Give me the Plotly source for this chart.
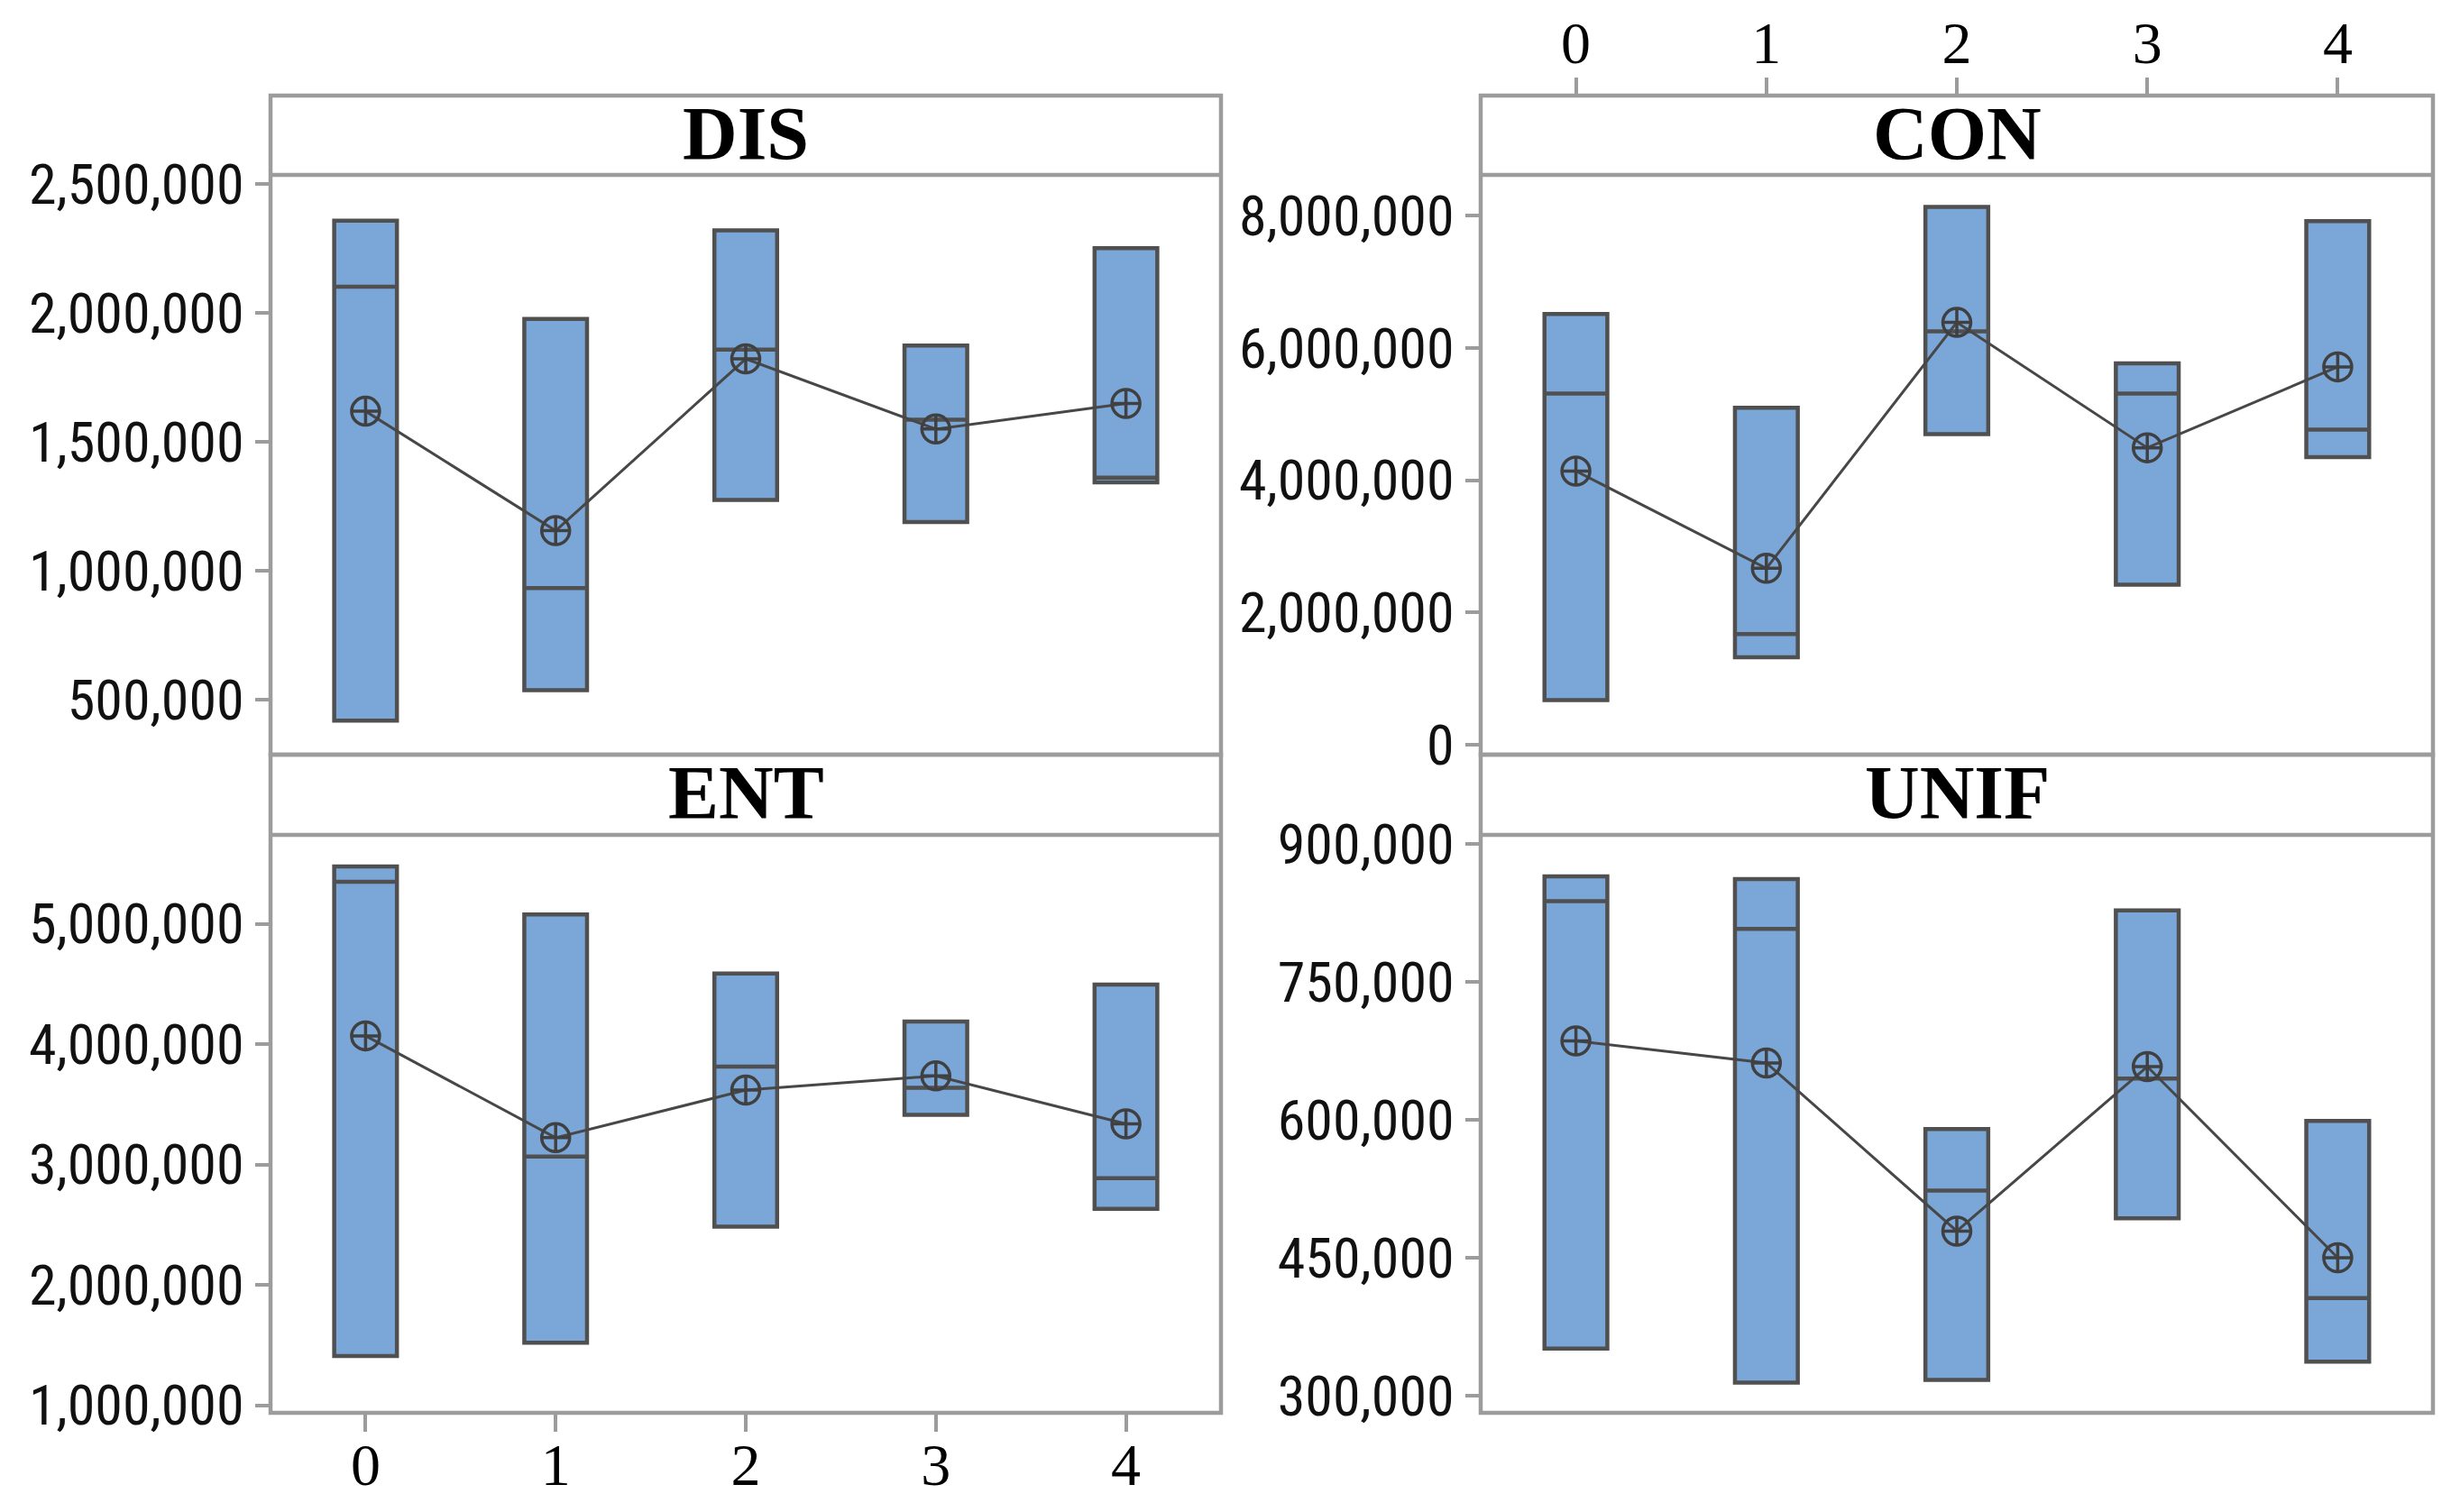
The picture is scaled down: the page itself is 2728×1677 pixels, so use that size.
import plotly.graph_objects as go

# ---------------- data ----------------
groups = [0, 1, 2, 3, 4]
panels = ["DIS", "CON", "ENT", "UNIF"]

dis_q3 = [2358000, 1977000, 2320000, 1874000, 2251000]
dis_med = [2102000, 934000, 1858000, 1586000, 1362000]
dis_q1 = [420000, 538000, 1275000, 1190000, 1343000]
dis_mean = [1619000, 1156000, 1822000, 1550000, 1649000]

con_q3 = [6514000, 5096000, 8135000, 5768000, 7919000]
con_med = [5313000, 1676000, 6254000, 5313000, 4768000]
con_q1 = [676000, 1325000, 4700000, 2423000, 4350000]
con_mean = [4140000, 2669000, 6388000, 4492000, 5716000]

ent_q3 = [5476000, 5078000, 4586000, 4187000, 4495000]
ent_med = [5349000, 3067000, 3814000, 3638000, 2887000]
ent_q1 = [1410000, 1521000, 2485000, 3412000, 2633000]
ent_mean = [4069000, 3223000, 3618000, 3736000, 3338000]

unif_q3 = [865000, 862000, 590000, 828000, 599000]
unif_med = [838000, 808000, 523000, 645000, 406000]
unif_q1 = [351000, 314000, 317000, 493000, 337000]
unif_mean = [686000, 662000, 479000, 658000, 450000]

dis_ticks = [500000, 1000000, 1500000, 2000000, 2500000]
con_ticks = [0, 2000000, 4000000, 6000000, 8000000]
ent_ticks = [1000000, 2000000, 3000000, 4000000, 5000000]
unif_ticks = [300000, 450000, 600000, 750000, 900000]

dis_range = [288000, 2535000]
con_range = [-149000, 8619000]
ent_range = [938000, 5738000]
unif_range = [281200, 910200]

# ---------------- layout geometry (pixels) ----------------
W, H = 2728, 1677
OFF = 8  # page body margin
def fx(px):
    return (px - OFF) / W
def fy(py):
    return 1 - (py - OFF) / H

L = (300, 1354)
R = (1642, 2698)
TOP = (106, 194, 837)      # panel top, strip bottom, plot bottom
BOT = (837, 926, 1567)

BOX_FILL = "#7BA6D8"
BOX_LINE = "#505050"
FRAME = "#9C9C9C"

fig = go.Figure()

series = [
    (dis_q1, dis_med, dis_q3, dis_mean, "x", "y"),
    (con_q1, con_med, con_q3, con_mean, "x2", "y2"),
    (ent_q1, ent_med, ent_q3, ent_mean, "x3", "y3"),
    (unif_q1, unif_med, unif_q3, unif_mean, "x4", "y4"),
]
for q1, med, q3, mean, xa, ya in series:
    fig.add_trace(go.Box(
        x=groups, q1=q1, median=med, q3=q3, lowerfence=q1, upperfence=q3,
        width=0.33, fillcolor=BOX_FILL, line=dict(color=BOX_LINE, width=4.5),
        whiskerwidth=0, boxpoints=False, showlegend=False,
        xaxis=xa, yaxis=ya, hoverinfo="skip",
    ))
    fig.add_trace(go.Scatter(
        x=groups, y=mean, mode="lines+markers",
        line=dict(color="#474747", width=3),
        marker=dict(symbol="circle-cross-open", size=31, color="#404040",
                    line=dict(width=3.5)),
        showlegend=False, xaxis=xa, yaxis=ya, hoverinfo="skip",
    ))

ytick_font = dict(family="Roboto Condensed, Liberation Sans Narrow, Arial Narrow",
                  size=62, color="#111111")
xtick_font = dict(family="Liberation Serif, Times New Roman, serif", size=66, color="black")

def yaxis(domain, rng, ticks, anchor):
    return dict(domain=domain, range=rng, tickvals=ticks, tickformat=",",
                ticks="outside", ticklen=16, tickwidth=4, tickcolor=FRAME,
                showgrid=False, zeroline=False, showline=False,
                tickfont=ytick_font, anchor=anchor, automargin=False, fixedrange=True)

def xaxis(domain, anchor, show, side="bottom", position=None, standoff=0):
    d = dict(domain=domain, range=[-0.5, 4.5], tickvals=groups,
             showgrid=False, zeroline=False, showline=False,
             tickfont=xtick_font, automargin=False, fixedrange=True, side=side)
    if show:
        d.update(ticks="outside", ticklen=20, tickwidth=4, tickcolor=FRAME,
                 showticklabels=True, ticklabelstandoff=standoff)
    else:
        d.update(ticks="", showticklabels=False)
    if position is not None:
        d.update(anchor="free", position=position)
    else:
        d.update(anchor=anchor)
    return d

fig.update_layout(
    width=W, height=H,
    margin=dict(l=0, r=0, t=0, b=0, autoexpand=False),
    paper_bgcolor="white", plot_bgcolor="white",
    template="none",
    xaxis=xaxis([fx(L[0]), fx(L[1])], "y", False),
    yaxis=yaxis([fy(TOP[2]), fy(TOP[1])], dis_range, dis_ticks, "x"),
    xaxis2=xaxis([fx(R[0]), fx(R[1])], "y2", True, side="top",
                 position=fy(TOP[0]), standoff=-10),
    yaxis2=yaxis([fy(TOP[2]), fy(TOP[1])], con_range, con_ticks, "x2"),
    xaxis3=xaxis([fx(L[0]), fx(L[1])], "y3", True, standoff=-20),
    yaxis3=yaxis([fy(BOT[2]), fy(BOT[1])], ent_range, ent_ticks, "x3"),
    xaxis4=xaxis([fx(R[0]), fx(R[1])], "y4", False),
    yaxis4=yaxis([fy(BOT[2]), fy(BOT[1])], unif_range, unif_ticks, "x4"),
)

shapes = []
annotations = []
for title, (x0, x1), (t, s, b) in [("DIS", L, TOP), ("CON", R, TOP),
                                  ("ENT", L, BOT), ("UNIF", R, BOT)]:
    shapes.append(dict(type="rect", xref="paper", yref="paper",
                       x0=fx(x0), x1=fx(x1), y0=fy(b), y1=fy(t),
                       line=dict(color=FRAME, width=4.5), fillcolor="rgba(0,0,0,0)",
                       layer="above"))
    shapes.append(dict(type="line", xref="paper", yref="paper",
                       x0=fx(x0), x1=fx(x1), y0=fy(s), y1=fy(s),
                       line=dict(color=FRAME, width=4.5), layer="above"))
    annotations.append(dict(text="<b>%s</b>" % title, xref="paper", yref="paper",
                            x=fx((x0 + x1) / 2), y=fy((t + s) / 2 - 2),
                            xanchor="center", yanchor="middle", showarrow=False,
                            font=dict(family="Liberation Serif, Times New Roman, serif",
                                      size=84, color="black")))
fig.update_layout(shapes=shapes, annotations=annotations)

fig.write_html("out.html")
